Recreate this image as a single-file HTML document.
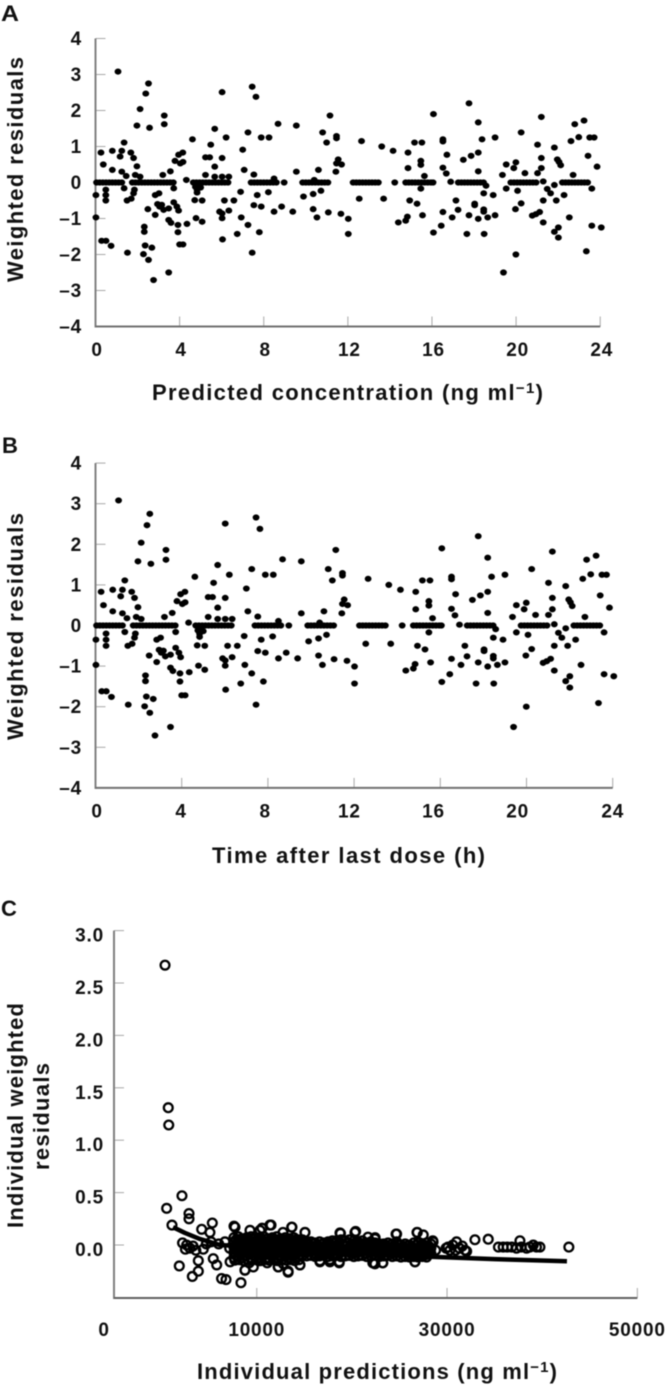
<!DOCTYPE html>
<html lang="en">
<head>
<meta charset="utf-8">
<title>Residual diagnostic plots</title>
<style>
  html, body { margin: 0; padding: 0; background: #fff; }
  body { width: 668px; height: 1386px; overflow: hidden; }
  svg { display: block; filter: blur(0.4px); font-family: "Liberation Sans", sans-serif; font-weight: bold; fill: #111; }
  .tick-label { font-size: 19px; letter-spacing: 0.8px; }
  .axis-title { font-size: 22px; }
  .panel-letter { font-size: 22px; }
</style>
</head>
<body>
<svg id="figure" xmlns="http://www.w3.org/2000/svg" width="668" height="1386" viewBox="0 0 668 1386">
  <rect x="0" y="0" width="668" height="1386" fill="#fff"/>

  <text class="panel-letter" x="1" y="21" textLength="18" lengthAdjust="spacingAndGlyphs">A</text>
  <g id="panel-a"></g>
  <text class="axis-title" transform="translate(23,282) rotate(-90)" x="0" y="0" textLength="225" lengthAdjust="spacing">Weighted residuals</text>
  <text class="axis-title" x="152" y="400" textLength="391" lengthAdjust="spacing">Predicted concentration (ng ml<tspan dy="-7" font-size="15">−1</tspan><tspan dy="7">)</tspan></text>

  <text class="panel-letter" x="2" y="453">B</text>
  <g id="panel-b"></g>
  <text class="axis-title" transform="translate(23,740) rotate(-90)" x="0" y="0" textLength="227" lengthAdjust="spacing">Weighted residuals</text>
  <text class="axis-title" x="212" y="863" textLength="273" lengthAdjust="spacing">Time after last dose (h)</text>

  <text class="panel-letter" x="1" y="916">C</text>
  <g id="panel-c"></g>
  <text class="axis-title" transform="translate(23,1228) rotate(-90)" x="0" y="0" textLength="225" lengthAdjust="spacing">Individual weighted</text>
  <text class="axis-title" transform="translate(49,1170) rotate(-90)" x="0" y="0" textLength="107" lengthAdjust="spacing">residuals</text>
  <text class="axis-title" x="197" y="1379" textLength="360" lengthAdjust="spacing">Individual predictions (ng ml<tspan dy="-7" font-size="15">−1</tspan><tspan dy="7">)</tspan></text>
</svg>

<script>
// ---- Panels A and B: residual scatter ----
const sampleTimes = [
  17.76,16.07,18.2,21.2,23.23,22.79,20.24,11.46,11.46,12.65,
  16.52,16.52,15.17,15.52,18.38,19.0,22.98,22.61,23.5,23.71,
  21.02,13.61,21.82,14.15,14.86,16.71,18.2,17.86,17.49,21.2,
  23.42,21.96,22.04,22.12,15.47,15.47,11.54,11.46,11.7,11.43,
  14.86,16.52,16.68,18.2,19.99,19.89,19.53,23.85,21.2,21.02,
  20.42,19.35,22.71,15.64,14.23,16.89,21.29,21.82,21.48,21.64,
  18.57,18.46,18.91,19.53,20.07,23.6,15.47,22.28,12.54,13.7,
  14.94,15.29,17.14,18.03,18.03,21.29,21.91,20.24,19.97,17.24,
  18.46,18.46,16.52,11.67,12.02,12.02,15.55,14.83,14.75,14.4,
  16.96,17.76,18.2,18.65,19.0,21.12,20.94,20.77,21.29,22.53,
  16.44,16.07,17.66,18.48,22.01,21.82,22.01,23.6,24.05,19.99,
  23.34,19.4,
  1.07,2.52,2.39,2.12,3.27,3.27,1.97,2.57,6.02,7.45,
  7.63,5.67,8.68,9.55,11.15,10.8,10.99,7.25,7.88,8.25,
  6.21,4.61,5.48,1.36,.26,.8,1.25,1.17,1.68,1.81,
  4.15,3.95,3.78,4.03,4.16,7.0,5.23,5.43,6.02,5.67,
  .37,.8,1.25,1.46,1.97,3.56,3.2,7.07,7.53,9.55,
  10.6,5.23,5.67,6.02,6.34,8.49,1.89,2.12,4.32,8.97,
  10.4,.02,.02,.49,.49,1.36,1.5,1.81,2.84,3.02,
  3.72,4.72,5.07,4.83,4.83,6.13,6.58,6.9,7.69,8.22,
  7.53,7.88,8.85,8.49,9.38,9.89,10.35,10.72,10.35,10.53,
  11.07,2.49,2.84,3.05,3.24,3.48,3.87,3.95,3.72,3.48,
  3.59,3.92,3.92,4.35,4.78,5.07,5.9,6.02,6.02,6.34,
  6.93,7.25,6.74,7.79,6.04,7.45,2.32,2.32,.29,.5,
  .74,1.52,2.36,2.68,2.28,2.52,4.0,4.16,3.48,2.76,
  1.7,1.85,.49,3.15,2.95,4.9,5.0,4.75
];
const weightedResiduals = [
  2.2,1.9,1.67,1.82,1.72,1.62,1.39,1.29,1.23,1.15,
  1.2,1.14,1.11,1.11,1.2,1.25,1.26,1.15,1.25,1.25,
  1.05,1.0,.97,.88,.83,.77,.83,.74,.63,.68,
  .74,.64,.57,.48,.6,.49,.64,.53,.5,.3,
  .4,.41,.25,.31,.56,.4,.5,.44,.4,.26,
  .26,.21,.21,.18,0,.02,.03,-.07,-.18,-.3,
  -.09,-.3,-.35,-.17,-.23,-.17,-.17,-.35,-.45,-.45,
  -.5,-.59,-.5,-.59,-.63,-.5,-.5,-.58,-.74,-.76,
  -.75,-.81,-.82,-.87,-1.01,-1.43,-.91,-.95,-1.06,-1.11,
  -.97,-.91,-1.01,-.97,-.91,-.82,-.88,-.92,-1.11,-.97,
  -1.2,-1.39,-1.43,-1.43,-1.25,-1.37,-1.53,-1.2,-1.25,-2.0,
  -1.91,-2.5,
  3.08,2.75,2.47,2.04,1.86,1.62,1.58,1.52,2.51,2.66,
  2.38,1.49,1.63,1.58,1.86,1.39,1.11,1.39,1.25,1.25,
  1.25,1.2,1.05,1.11,.83,.88,.88,.72,.83,.68,
  .83,.77,.6,.53,.57,.91,.7,.7,.68,.44,
  .5,.35,.3,.18,.45,.31,.21,.35,.22,.3,
  .35,.21,.16,.16,.16,.11,.21,.16,.07,0,
  .07,-.35,-.97,-.35,-.5,-.16,-.5,-.3,-.35,-.3,
  -.16,-.49,-.5,-.2,-.28,-.5,-.5,-.26,-.35,-.27,
  -.63,-.67,-.67,-.81,-.81,-.39,-.32,-.23,-.74,-.97,
  -.83,-.74,-.9,-.67,-.76,-.72,-.67,-.78,-.55,-1.04,
  -1.12,-1.18,-1.38,-1.15,-.99,-1.09,-.81,-.86,-.99,-.78,
  -.97,-1.18,-1.43,-1.38,-1.58,-1.95,-1.23,-1.37,-1.62,-1.62,
  -1.76,-1.95,-1.75,-1.81,-1.99,-2.15,-1.72,-1.72,-2.5,-2.71,
  -.45,-.2,-.2,-.62,-.6,-.1,-.14,-.12
];
// Observations lying on the zero line, which merge into the horizontal dashes
const zeroBandTimes = [
  .05,.2,.35,.5,.65,.8,.95,1.1,1.25,
  1.75,1.9,2.05,2.2,2.35,2.5,2.65,2.8,2.95,3.1,3.25,3.4,3.55,3.7,
  4.65,4.8,4.95,5.1,5.25,5.4,5.55,5.7,5.85,6.0,6.15,6.3,
  7.4,7.55,7.7,7.85,8,8.15,8.3,8.45,8.6,
  9.85,10,10.15,10.3,10.45,10.6,10.75,10.9,11.05,
  12.25,12.4,12.55,12.7,12.85,13,13.15,13.3,13.45,
  14.75,14.9,15.05,15.2,15.35,15.5,15.65,15.8,15.95,16.05,
  17.25,17.4,17.55,17.7,17.85,18,18.15,18.3,18.45,
  19.75,19.9,20.05,20.2,20.35,20.5,20.65,20.8,20.95,
  22.2,22.35,22.5,22.65,22.8,22.95,23.1,23.25,23.4
];
const zeroBandResiduals = [
  0,0,0,0,0,0,0,0,0,
  0,0,0,0,0,0,0,0,0,0,0,0,0,0,
  0,0,0,0,0,0,0,0,0,0,0,0,
  0,0,0,0,0,0,0,0,0,
  0,0,0,0,0,0,0,0,0,
  0,0,0,0,0,0,0,0,0,
  0,0,0,0,0,0,0,0,0,0,
  0,0,0,0,0,0,0,0,0,
  0,0,0,0,0,0,0,0,0,
  0,0,0,0,0,0,0,0,0
];
const residualTicks = [4,3,2,1,0,-1,-2,-3,-4];
const residualTickLabels = ["4","3","2","1","0","–1","–2","–3","–4"];
const timeTicks = [0,4,8,12,16,20,24];
const timeTickLabels = ["0","4","8","12","16","20","24"];

// ---- Panel C: individual residuals ----
const individualPredictions = [
  360,700,750,2140,530,2880,2880,1090,4210,5330,5080,1860,3860,3860,3230,5430,5790,6300,6770,8340,
  7610,2630,2980,4380,6660,8760,9640,10340,11500,13670,15070,12270,13300,14540,16640,17690,18670,18800,20390,22420,
  22420,24700,26870,27500,28500,22250,23230,26630,31000,30100,32060,32930,34330,35400,36330,37300,38360,39060,39760,37660,42800,
  2200,3300,3600,2500,4700,5200,6000,
  7710,11390,13700,15070,18750,20320,24640,26840,28530,9290,10560,12760,21690,22440,
  8760,12250,13300,14540,16640,17690,18670,22200,23250,26630,7200,7150,9200,10200,11100,12800,
  7600,7600,7600,7600,7600, 8050,8050,8050,8050,8050, 8500,8500,8500,8500,8500, 8950,8950,8950,8950,8950,
  9400,9400,9400,9400,9400, 9850,9850,9850,9850,9850, 10300,10300,10300,10300,10300, 10750,10750,10750,10750,10750,
  11200,11200,11200,11200,11200, 11650,11650,11650,11650,11650, 12100,12100,12100,12100,12100, 12550,12550,12550,12550,12550,
  13000,13000,13000,13000,13000, 13450,13450,13450,13450,13450, 13900,13900,13900,13900,13900, 14350,14350,14350,14350,14350,
  14800,14800,14800,14800,14800,
  15250,15250,15250, 15700,15700,15700, 16150,16150,16150, 16600,16600,16600, 17050,17050,17050, 17500,17500,17500,
  17950,17950,17950, 18400,18400,18400, 18850,18850,18850, 19300,19300,19300, 19750,19750,19750, 20200,20200,20200,
  20650,20650,20650, 21100,21100,21100, 21550,21550,21550, 22000,22000,22000, 22450,22450,22450, 22900,22900,22900,
  23350,23350,23350, 23800,23800,23800, 24250,24250,24250, 24700,24700,24700, 25150,25150,25150, 25600,25600,25600,
  26050,26050,26050, 26500,26500,26500, 26950,26950,26950, 27400,27400,27400, 27850,27850,27850, 28300,28300,28300,
  28800,29900,30300,30600,30900,31300,31600,31900,
  35900,36800,37800,38700,39400,
  7825,7825,7825,7825, 8275,8275,8275,8275, 8725,8725,8725,8725, 9175,9175,9175,9175,
  9625,9625,9625,9625, 10075,10075,10075,10075, 10525,10525,10525,10525, 10975,10975,10975,10975,
  11425,11425,11425,11425, 11875,11875,11875,11875, 12325,12325,12325,12325, 12775,12775,12775,12775,
  13225,13225,13225,13225, 13675,13675,13675,13675, 14125,14125,14125,14125, 14575,14575,14575,14575,
  15475,15475, 15925,15925, 16375,16375, 16825,16825, 17275,17275, 17725,17725, 18175,18175, 18625,18625,
  19075,19075, 19525,19525, 19975,19975, 20425,20425, 20875,20875, 21325,21325, 21775,21775, 22225,22225,
  22675,22675, 23125,23125, 23575,23575, 24025,24025, 24475,24475, 24925,24925, 25375,25375, 25825,25825,
  26275,26275, 26725,26725, 27175,27175, 27625,27625, 28075,28075,
  7700,8150,8600,9050,9500,9950,10400,10850,11300,11750,12200,12650,13100,13550,14000,14450,
  15250,15700,16150,16600,17050,17500,17950,18400,18850,19300,19750,20200,20650,21100,21550,22000,
  22450,22900,23350,23800,24250,24700,25150,25600,26050,26500,26950,27400,27850
];
const individualResiduals = [
  2.67,1.31,1.145,.47,.35,.30,.25,.19,.15,.21,.12,-.2,-.15,-.25,-.30,-.13,-.19,-.32,-.33,-.36,
  .18,0,-.03,-.04,.03,-.24,-.21,.14,.19,.17,.12,-.21,-.25,-.19,-.15,-.14,-.16,.11,.13,.06,
  -.18,.105,.12,.096,.04,-.17,-.17,-.16,.03,-.02,-.06,.05,.055,-.02,-.02,-.03,-.03,0,-.02,.04,-.02,
  .02,-.01,-.05,-.04,.01,.03,.01,
  .17,.19,.17,.12,.115,.12,.105,.12,.03,.14,.16,.12,.075,.07,
  -.24,-.21,-.26,-.19,-.16,-.16,-.17,-.17,-.17,-.16,-.16,-.03,-.17,-.15,-.17,-.18,
  -.12,-.07,-.02,.03,.07, -.11,-.06,-.01,.04,.08, -.12,-.08,-.03,.02,.06, -.1,-.06,-.01,.03,.07,
  -.12,-.07,-.02,.03,.08, -.11,-.07,-.03,.02,.06, -.12,-.06,-.01,.04,.07, -.1,-.07,-.02,.03,.08,
  -.12,-.08,-.03,.01,.06, -.11,-.06,-.02,.03,.07, -.12,-.07,-.01,.04,.08, -.1,-.06,-.02,.02,.06,
  -.11,-.08,-.03,.03,.07, -.12,-.07,-.02,.02,.06, -.1,-.06,-.01,.03,.07, -.11,-.07,-.02,.02,.05,
  -.1,-.06,-.02,.02,.05,
  -.07,-.02,.03, -.06,-.01,.03, -.08,-.03,.02, -.07,-.02,.03, -.06,-.02,.02, -.07,-.03,.03,
  -.06,-.01,.04, -.08,-.02,.04, -.07,-.03,.05, -.06,-.01,.04, -.07,-.02,.05, -.08,-.03,.04,
  -.07,-.01,.03, -.06,-.02,.04, -.08,-.03,.02, -.07,-.02,.03, -.06,-.02,.02, -.08,-.03,.01,
  -.07,-.02,.01, -.07,-.03,.02, -.08,-.02,.01, -.07,-.03,.03, -.08,-.04,0, -.08,-.03,.01,
  -.09,-.04,0, -.08,-.03,.02, -.09,-.04,.02, -.08,-.03,.01, -.09,-.04,.02, -.08,-.03,.01,
  -.05,-.03,-.05,0,-.05,-.03,-.01,-.05,
  -.02,-.02,-.02,-.02,-.02,
  -.095,-.045,.005,.05, -.09,-.04,.01,.055, -.1,-.05,0,.045, -.085,-.04,.005,.05,
  -.095,-.05,.005,.055, -.09,-.045,0,.05, -.1,-.04,.01,.045, -.085,-.05,.005,.055,
  -.095,-.045,0,.05, -.09,-.04,.01,.055, -.1,-.05,.005,.045, -.085,-.045,0,.05,
  -.095,-.05,.005,.05, -.09,-.04,0,.045, -.085,-.045,.005,.05, -.09,-.04,0,.04,
  -.045,.005, -.04,.01, -.05,0, -.045,.005, -.04,0, -.05,.005, -.04,.015, -.05,.015,
  -.045,.01, -.04,.015, -.045,.01, -.05,.005, -.04,.01, -.045,.01, -.05,0, -.045,.005,
  -.04,0, -.05,-.005, -.045,-.005, -.05,0, -.05,-.005, -.05,.005, -.06,-.015, -.055,-.01,
  -.06,-.015, -.055,-.005, -.06,-.01, -.055,-.01, -.06,-.01,
  -.145,-.14,-.15,-.14,-.145,-.14,-.15,-.14,-.145,-.14,-.15,-.14,-.145,-.14,-.15,-.14,
  -.105,-.1,-.11,-.105,-.1,-.11,-.105,-.1,-.11,-.105,-.1,-.11,-.105,-.1,-.11,-.105,
  -.1,-.11,-.105,-.1,-.11,-.105,-.115,-.11,-.115,-.11,-.115,-.11,-.115
];
const trendPredictions = [1200,2460,4040,6140,15000,22000,28940,35000,42600];
const trendResiduals = [.17,.115,.057,0,-.05,-.085,-.115,-.135,-.155];
const individualResidualTicks = [3,2.5,2,1.5,1,.5,0];
const individualResidualTickLabels = ["3.0","2.5","2.0","1.5","1.0","0.5","0.0"];
const predictionTicks = [0,10000,30000,50000];
const predictionTickLabels = ["0","10000","30000","50000"];

// ---- Axis functions ----
const xA = t => 95.5 + 21.03 * t;
const yA = r => 182.5 - 36 * r;
const xB = t => 95.5 + 21.55 * t;
const yB = r => 625.5 - 40.6 * r;
const xC = v => 161.6 + 0.009515 * v;
const yC = v => 1245 - 104.8 * v;
const panelCLeft = 114;
const panelCBottom = 1298;

const NS = "http://www.w3.org/2000/svg";
function mk(tag, parent, attrs) {
  const el = document.createElementNS(NS, tag);
  for (const k in attrs) el.setAttribute(k, attrs[k]);
  parent.appendChild(el);
  return el;
}

function drawResidualPanel(g, x, y, labelX) {
  const left = x(0), bottom = y(-4), right = x(24);
  residualTicks.forEach((v, i) => {
    const tick = mk("line", g, {x1: left, x2: left + 10, y1: y(v), y2: y(v), stroke: "#a8a8a8", "stroke-width": 1});
    
    
    const lab = mk("text", g, {class: "tick-label", x: 82, y: y(v) + 6.5, "text-anchor": "end"});
    
    
    lab.textContent = residualTickLabels[i];
  });
  timeTicks.forEach((v, i) => {
    const tick = mk("line", g, {x1: x(v), x2: x(v), y1: bottom, y2: bottom - 10, stroke: "#a8a8a8", "stroke-width": 1});
    
    
    const lab = mk("text", g, {class: "tick-label", x: labelX(v), y: bottom + 29.5, "text-anchor": "middle"});
    
    
    lab.textContent = timeTickLabels[i];
  });
  const yAxis = mk("line", g, {x1: left, x2: left, y1: y(4), y2: bottom + 1, stroke: "#808080", "stroke-width": 2});
  
  
  const xAxis = mk("line", g, {x1: left, x2: right, y1: bottom, y2: bottom, stroke: "#707070", "stroke-width": 2});
  
  

  const n = Math.min(sampleTimes.length, weightedResiduals.length);
  for (let i = 0; i < n; i++) {
    const dot = mk("ellipse", g, {cx: x(sampleTimes[i]), cy: y(weightedResiduals[i]), rx: 3.4, ry: 3.1, fill: "#000"});
    
    
  }
  const m = Math.min(zeroBandTimes.length, zeroBandResiduals.length);
  for (let i = 0; i < m; i++) {
    const dot = mk("ellipse", g, {cx: x(zeroBandTimes[i]), cy: y(zeroBandResiduals[i]), rx: 3.4, ry: 3.1, fill: "#000"});
    
    
  }
}

drawResidualPanel(document.getElementById("panel-a"), xA, yA, v => xA(v) + 1.5);
// Panel B's printed tick labels do not sit under their ticks in the source figure (only "24" does).
drawResidualPanel(document.getElementById("panel-b"), xB, yB, v => v < 24 ? xA(v) + 1.5 : xB(v));

(function drawPanelC() {
  const g = document.getElementById("panel-c");
  individualResidualTicks.forEach((v, i) => {
    const tick = mk("line", g, {x1: panelCLeft, x2: panelCLeft + 10, y1: yC(v), y2: yC(v), stroke: "#a8a8a8", "stroke-width": 1});
    
    
    const lab = mk("text", g, {class: "tick-label", x: 104, y: yC(v) + 11, "text-anchor": "end"});
    
    
    lab.textContent = individualResidualTickLabels[i];
  });
  predictionTicks.forEach((v, i) => {
    // The "0" label sits just left of the axis corner in the source figure; it has no tick of its own.
    const px = v === 0 ? panelCLeft - 10 : xC(v);
    if (v !== 0) {
      const tick = mk("line", g, {x1: px, x2: px, y1: panelCBottom, y2: panelCBottom - 10, stroke: "#a8a8a8", "stroke-width": 1});
      
      
    }
    const lab = mk("text", g, {class: "tick-label", x: px, y: 1336, "text-anchor": "middle"});
    
    
    lab.textContent = predictionTickLabels[i];
  });
  const yAxis = mk("line", g, {x1: panelCLeft, x2: panelCLeft, y1: yC(3), y2: panelCBottom + 1, stroke: "#808080", "stroke-width": 2});
  
  
  const xAxis = mk("line", g, {x1: panelCLeft, x2: xC(50000), y1: panelCBottom, y2: panelCBottom, stroke: "#606060", "stroke-width": 2});
  
  

  const n = Math.min(individualPredictions.length, individualResiduals.length);
  for (let i = 0; i < n; i++) {
    const c = mk("circle", g, {cx: xC(individualPredictions[i]), cy: yC(individualResiduals[i]), r: 4.4, fill: "none", stroke: "#000", "stroke-width": 2.3});
    
    
  }
  const pts = trendPredictions.map((v, i) => xC(v) + "," + yC(trendResiduals[i])).join(" ");
  const trend = mk("polyline", g, {points: pts, fill: "none", stroke: "#000", "stroke-width": 4.5, "stroke-linejoin": "round"});
  
  
})();
</script>
</body>
</html>
